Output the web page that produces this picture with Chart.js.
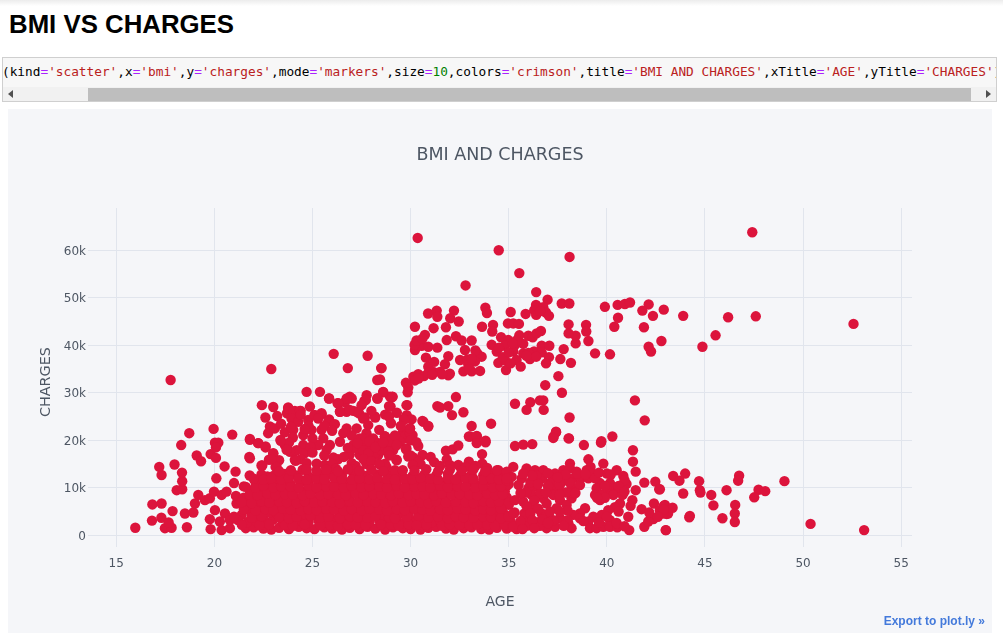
<!DOCTYPE html>
<html>
<head>
<meta charset="utf-8">
<script src="https://cdn.jsdelivr.net/npm/chart.js@4"></script>
<style>
  html, body { margin: 0; padding: 0; background: #fff; overflow: hidden; }
  body { width: 1003px; height: 643px; position: relative; }
  .topshadow { position: absolute; left: 0; top: 0; width: 1003px; height: 6px; background: linear-gradient(#ececec, #fff); }
  h1 { position: absolute; left: 9px; top: 10px; margin: 0; font: bold 25.8px "Liberation Sans", Arial, sans-serif; color: #000; }
  .codebox { position: absolute; left: 2px; top: 57px; width: 995px; height: 45px; box-sizing: border-box; border: 1px solid #cfcfcf; background: #f7f7f7; overflow: hidden; }
  .code { position: absolute; left: -1px; top: 6px; white-space: pre; font: 12.78px "DejaVu Sans Mono", monospace; color: #000; }
  .code .o { color: #aa22ff; } .code .s { color: #ba2121; } .code .n { color: #008000; }
  .track { position: absolute; left: 0; top: 29px; width: 993px; height: 14px; background: #f1f1f1; }
  .thumb { position: absolute; left: 85px; top: 1px; width: 883px; height: 13px; background: #bebebe; }
  .al { position: absolute; left: 5px; top: 3px; border: 4px solid transparent; border-left: 0; border-right: 5px solid #505050; }
  .ar { position: absolute; left: 983px; top: 3px; border: 4px solid transparent; border-right: 0; border-left: 5px solid #505050; }
  .panel { position: absolute; left: 8px; top: 109px; width: 984px; height: 524px; background: #f5f6f9; }
  .export { position: absolute; right: 7px; top: 505px; font: bold 12px "Liberation Sans", Arial, sans-serif; color: #447adb; }
</style>
</head>
<body>
<div class="topshadow"></div>
<h1>BMI VS CHARGES</h1>
<div class="codebox">
  <div class="code">(kind<span class="o">=</span><span class="s">'scatter'</span>,x<span class="o">=</span><span class="s">'bmi'</span>,y<span class="o">=</span><span class="s">'charges'</span>,mode<span class="o">=</span><span class="s">'markers'</span>,size<span class="o">=</span><span class="n">10</span>,colors<span class="o">=</span><span class="s">'crimson'</span>,title<span class="o">=</span><span class="s">'BMI AND CHARGES'</span>,xTitle<span class="o">=</span><span class="s">'AGE'</span>,yTitle<span class="o">=</span><span class="s">'CHARGES'</span>)</div>
  <div class="track"><div class="thumb"></div><div class="al"></div><div class="ar"></div></div>
</div>
<div class="panel">
  <canvas id="myChart" width="984" height="524"></canvas>
  <div class="export">Export to plot.ly »</div>
</div>
<script>
// values, charges in thousands
const xTicks = [15, 20, 25, 30, 35, 40, 45, 50, 55];
const yTicks = [0, 10, 20, 30, 40, 50, 60];

// scattered points above the main band
const upperBmi = [
  17.77, 22.9, 26.08, 27.81, 26.8, 28.5, 28.3, 28.6, 27.76, 28.3, 27.64, 26.9, 27.0, 25.84, 25.38, 24.7,
  26.28, 26.65, 22.42, 23.0, 23.76, 24.1, 24.4, 24.87, 22.6, 23.2, 23.7, 24.26, 25.1, 25.46, 26.4, 26.74,
  27.08, 27.37, 27.67, 28.2, 28.9, 28.95, 25.85,
  47.41, 42.9, 43.89, 46.18, 47.59, 52.57, 45.54, 44.87, 42.78,
  30.36, 34.49, 38.1, 35.54, 32.8, 36.4, 36.98, 37.7, 38.09, 36.39, 39.9, 40.55, 40.92, 41.18, 42.13, 41.81,
  42.35, 40.57, 40.38, 41.89, 42.13, 42.25, 39.4, 40.16, 39.06, 38.41, 38.41, 38.94, 38.95, 38.05, 38.05, 37.8,
  37.63, 38.17, 37.53, 36.86, 37.71, 41.43, 41.93, 38.1, 35.32, 36.1, 35.91, 36.59, 36.76, 36.78, 37.41, 37.29,
  38.05, 40.28, 39.72,
  30.89, 31.33, 31.36, 32.21, 32.02, 32.45, 33.81, 33.89, 35.1, 35.86, 36.3, 36.76, 36.9, 37.05, 30.22, 31.17,
  31.8, 33.64, 34.2, 34.16, 34.96, 35.23, 35.52, 30.73, 30.48, 30.22, 30.56, 30.9, 31.36, 31.84, 32.31, 32.6,
  33.11, 32.77, 30.78, 31.92, 30.9, 31.75, 32.52, 33.4, 33.62, 33.28, 32.94, 32.69, 33.11, 33.54, 34.13, 34.39,
  34.47, 34.81, 34.86, 34.61, 34.98, 34.81, 35.32, 35.74, 35.23, 35.74, 35.4, 35.61, 36.08, 36.29, 36.68, 37.07,
  36.68, 37.05, 36.9, 35.54, 36.0, 36.22, 36.42, 36.64, 30.14, 30.39, 30.22, 29.76, 30.68, 31.16, 31.5, 31.92,
  29.88, 29.85, 28.61, 29.07, 28.98, 28.52, 29.83, 32.31, 31.36, 31.5, 31.92, 32.69, 32.11, 29.8, 29.66, 30.05,
  30.6, 30.9, 33.11, 34.1, 29.97, 29.63, 30.1, 33.03, 33.37, 33.82, 28.69, 28.44,
  32.0, 33.0, 31.2, 30.9, 31.6, 32.9, 33.3, 34.5, 34.7, 35.0, 35.1, 36.0, 35.4, 35.2, 35.9, 36.4,
  33.1, 30.4, 30.2, 30.3, 30.6, 36.4, 36.6, 31.1
];
const upperCharges = [
  32.7, 35.0, 38.2, 37.8, 35.2, 35.2, 32.7, 30.2, 29.5, 28.8, 28.3, 29.2, 28.8, 28.8, 30.2, 30.2,
  27.8, 28.0, 27.4, 27.0, 26.9, 26.2, 26.2, 27.1, 24.8, 25.1, 25.7, 25.3, 25.3, 25.5, 26.0, 26.0,
  26.2, 25.7, 24.8, 24.8, 27.2, 29.2, 24.4,
  63.8, 47.5, 46.2, 45.9, 46.1, 44.5, 42.1, 39.7, 40.9,
  62.6, 60.0, 58.6, 55.2, 52.6, 51.2, 49.6, 48.8, 48.8, 48.5, 48.1, 48.5, 48.7, 49.0, 48.6, 47.3,
  46.2, 45.8, 43.9, 43.8, 39.7, 38.7, 38.3, 38.1, 40.9, 40.4, 42.0, 44.3, 42.9, 44.4, 42.5, 39.2,
  37.1, 36.3, 33.5, 31.6, 30.0, 28.4, 24.2, 24.8, 27.7, 28.0, 26.4, 28.4, 28.4, 26.4, 21.8, 20.8,
  20.4, 20.8, 19.8,
  46.7, 47.3, 46.0, 47.3, 45.7, 45.0, 47.9, 46.8, 47.0, 46.6, 47.4, 48.0, 46.9, 46.2, 43.9, 43.6,
  43.8, 43.9, 44.3, 42.9, 44.6, 44.6, 44.5, 42.2, 40.8, 39.0, 39.9, 39.7, 39.5, 41.1, 41.9, 41.0,
  41.0, 39.0, 37.4, 37.7, 35.5, 36.0, 36.9, 38.3, 37.6, 36.6, 36.0, 34.5, 34.5, 34.6, 40.1, 38.7,
  36.3, 36.9, 34.8, 41.7, 41.1, 39.9, 40.1, 40.3, 38.7, 38.3, 36.9, 35.5, 37.1, 38.7, 39.9, 39.9,
  38.5, 37.5, 36.2, 42.1, 42.0, 41.7, 42.5, 43.0, 33.4, 33.9, 32.6, 32.1, 33.5, 34.4, 34.4, 33.7,
  31.1, 30.1, 30.1, 29.1, 27.1, 35.2, 27.4, 29.1, 27.2, 26.9, 27.2, 25.9, 25.3, 25.3, 24.5, 24.4,
  24.1, 22.9, 23.0, 23.5, 22.5, 21.1, 21.1, 20.8, 20.8, 19.9, 20.8, 32.8,
  34.0, 35.0, 36.5, 34.2, 33.9, 37.0, 38.9, 39.5, 37.5, 38.5, 36.2, 38.4, 41.0, 40.4, 37.8, 37.6,
  37.2, 33.0, 40.1, 41.0, 41.4, 46.4, 47.2, 33.8
];

// band between about 14k and 27k
const middleBmi = [
  23.76, 24.02, 24.36, 23.93, 24.27, 24.78, 25.12, 25.46, 25.29, 25.8, 26.14, 22.83, 22.74, 23.08, 23.59, 24.02,
  24.53, 24.95, 25.46, 25.55, 25.29, 24.53, 25.89, 25.72, 26.06, 24.61, 24.19, 23.85, 23.59, 23.37, 21.81, 22.23,
  22.61, 23.0, 22.78, 23.12, 22.4, 24.1, 21.81, 26.74, 27.25, 26.57, 26.4, 27.08, 26.9, 27.41, 27.75, 28.18,
  27.84, 27.58, 27.25, 26.74, 26.31, 26.4, 25.85, 26.9, 27.41, 27.75, 28.09, 27.58, 27.92, 28.35, 28.69, 28.35,
  28.69, 29.11, 29.28, 28.18, 28.77, 27.75, 25.21, 25.63, 29.67, 29.68, 29.62, 29.79, 28.94, 29.08, 28.32, 27.72,
  29.79, 29.88, 28.94, 27.25, 27.58, 28.52, 27.84, 28.69, 28.95, 28.52, 28.86, 29.29, 29.71, 29.46, 29.76, 28.69,
  30.39, 30.14, 30.61, 31.02, 30.51, 31.8, 32.14, 32.43, 31.84, 32.97, 33.37, 33.37, 33.82, 33.64, 33.65, 32.97,
  32.43, 35.32, 35.74, 36.2, 37.41, 37.27, 38.07, 38.83, 39.7, 35.23, 34.47, 38.12, 39.06, 39.82, 39.17, 40.5,
  40.0, 40.84, 41.33, 41.33, 41.47, 30.65, 30.9, 29.97, 29.97,
  24.4, 24.8, 25.6, 26.0, 23.4, 23.9, 24.6, 25.0, 24.0, 23.8, 24.9, 25.0, 24.4, 25.6, 23.3, 24.7,
  26.3, 27.0, 27.3, 26.8, 26.6, 27.6, 28.0, 28.4, 27.0, 26.0, 27.2, 27.9, 28.2, 28.6, 28.9, 28.4,
  29.2, 29.0, 28.7, 27.5, 28.0, 29.3, 29.5, 28.9, 30.0, 30.3, 30.0, 30.4, 31.2, 31.5, 32.0, 32.8,
  33.3, 33.9, 29.3, 30.1
];
const middleCharges = [
  26.7, 26.0, 26.2, 24.6, 23.9, 24.3, 25.3, 25.7, 24.6, 23.9, 23.4, 22.9, 21.5, 22.5, 21.7, 22.2,
  21.1, 22.2, 22.2, 20.4, 19.0, 19.0, 19.0, 18.0, 16.4, 17.3, 17.9, 17.6, 19.0, 20.1, 20.3, 19.4,
  18.7, 17.3, 15.9, 14.4, 14.7, 15.9, 16.2, 22.5, 22.5, 21.5, 19.7, 19.0, 17.0, 20.4, 21.5, 25.0,
  23.2, 24.6, 26.0, 28.8, 27.8, 26.0, 28.8, 26.4, 16.9, 19.0, 20.4, 20.4, 18.0, 16.9, 20.8, 19.4,
  18.3, 17.9, 15.9, 17.3, 14.4, 15.0, 15.1, 14.8, 24.3, 20.4, 21.8, 18.3, 27.1, 29.2, 28.8, 28.5,
  27.4, 16.6, 19.7, 18.3, 17.9, 17.9, 17.3, 20.8, 19.7, 19.0, 17.6, 15.8, 20.8, 19.7, 18.1, 15.1,
  18.8, 16.4, 16.9, 16.5, 15.0, 17.8, 18.1, 18.9, 16.0, 20.8, 20.9, 19.4, 19.6, 17.1, 15.1, 15.5,
  14.8, 18.8, 19.1, 19.2, 21.7, 20.5, 20.4, 19.0, 19.5, 14.4, 13.7, 15.1, 16.0, 15.1, 14.4, 13.7,
  13.0, 12.5, 17.9, 15.5, 13.4, 23.9, 23.0, 21.5, 22.5,
  25.4, 23.0, 23.0, 22.0, 23.5, 22.8, 22.4, 20.4, 20.6, 19.5, 18.6, 17.4, 16.0, 16.8, 15.8, 15.2,
  16.0, 21.0, 19.4, 18.4, 16.5, 16.0, 15.6, 15.0, 15.2, 15.0, 14.6, 19.8, 18.6, 19.6, 16.8, 22.2,
  21.0, 23.6, 25.4, 27.4, 26.2, 25.8, 23.0, 25.0, 20.0, 19.6, 16.8, 15.5, 15.4, 14.6, 14.8, 14.4,
  14.6, 14.2, 19.0, 14.8
];

// left edge of the main band
const leftBmi = [
  15.97, 16.82, 16.84, 17.31, 17.3, 17.48, 17.82, 17.67, 17.87, 18.6, 18.5, 18.93, 19.01, 19.18, 18.08, 18.36,
  18.36, 18.35, 17.31, 17.19, 17.97, 18.72, 18.31, 19.1, 19.32, 19.81, 20.08, 20.52, 20.1, 19.96, 20.91, 20.03,
  20.2, 20.08, 19.52, 19.77, 19.98, 20.37, 20.62, 21.0, 21.08, 21.13, 21.47, 21.81, 22.24, 22.61, 23.0, 22.92,
  23.17, 22.44, 21.78, 23.38, 23.68, 24.14, 19.81, 20.37, 20.79, 19.77, 20.03, 20.54, 20.79, 20.28, 21.39
];
const leftCharges = [
  1.6, 3.1, 6.5, 6.7, 3.7, 1.5, 1.6, 2.7, 5.1, 1.7, 4.6, 4.8, 6.7, 8.5, 9.5, 9.7,
  11.4, 13.2, 12.7, 14.4, 14.9, 21.5, 19.0, 16.8, 15.6, 17.1, 16.3, 14.5, 12.0, 22.4, 21.2, 19.5,
  19.5, 18.5, 7.4, 7.8, 9.2, 8.5, 9.2, 11.0, 13.4, 6.7, 7.1, 20.1, 19.4, 18.5, 17.2, 16.0,
  14.4, 14.7, 16.5, 19.9, 18.0, 15.7, 1.3, 1.1, 1.5, 3.4, 5.3, 4.6, 3.2, 2.9, 4.3
];

// the dense block, read row by row since single dots cannot be told apart there
const blockBmi = [
  21.6, 22.0, 22.5, 22.9, 23.3, 23.8, 24.3, 24.7, 25.1, 25.6, 26.0, 26.5, 26.9, 27.4, 27.8, 28.2,
  28.7, 29.1, 29.6, 30.0, 30.5, 30.9, 31.3, 31.8, 32.2, 32.7, 33.1, 33.6, 34.0, 34.4, 34.9, 35.4,
  21.2, 21.7, 22.1, 22.6, 23.0, 23.5, 23.9, 24.4, 24.8, 25.3, 25.7, 26.2, 26.6, 27.0, 27.5, 27.9,
  28.4, 28.8, 29.3, 29.7, 30.2, 30.6, 31.1, 31.5, 32.0, 32.4, 32.9, 33.3, 33.8, 34.2, 34.7, 35.1,
  21.9, 22.3, 22.8, 23.2, 23.7, 24.1, 24.6, 25.0, 25.5, 25.9, 26.4, 26.8, 27.2, 27.7, 28.1, 28.6,
  29.0, 29.5, 29.9, 30.4, 30.8, 31.2, 31.7, 32.1, 32.6, 33.0, 33.5, 33.9, 34.3, 34.8, 35.3, 35.8,
  21.7, 22.2, 22.6, 23.1, 23.5, 24.0, 24.4, 24.9, 25.3, 25.8, 26.2, 26.7, 27.1, 27.6, 28.0, 28.5,
  28.9, 29.4, 29.8, 30.3, 30.7, 31.1, 31.6, 32.0, 32.5, 32.9, 33.4, 33.8, 34.2, 34.7, 35.0, 21.1,
  21.5, 22.0, 22.4, 22.9, 23.3, 23.8, 24.2, 24.7, 25.1, 25.6, 26.0, 26.5, 26.9, 27.4, 27.8, 28.3,
  28.7, 29.2, 29.6, 30.1, 30.5, 30.9, 31.4, 31.8, 32.3, 32.7, 33.2, 33.6, 34.1, 34.5, 34.9, 35.0,
  21.9, 22.3, 22.8, 23.2, 23.7, 24.1, 24.6, 25.0, 25.5, 25.9, 26.4, 26.8, 27.3, 27.7, 28.2, 28.6,
  29.1, 29.5, 30.0, 30.4, 30.8, 31.3, 31.7, 32.2, 32.6, 33.1, 33.5, 34.0, 34.4, 34.8, 34.9, 21.5,
  22.1, 22.6, 23.0, 23.5, 23.9, 24.4, 24.8, 25.3, 25.7, 26.2, 26.6, 27.1, 27.5, 28.0, 28.4, 28.9,
  29.3, 29.8, 30.2, 30.6, 31.1, 31.5, 32.0, 32.4, 32.9, 33.3, 33.8, 34.2, 34.6, 35.0, 21.8, 22.7,
  22.4, 23.0, 23.6, 24.2, 24.8, 25.4, 25.9, 26.5, 27.1, 27.7, 28.3, 28.9, 29.5, 30.1, 30.7, 31.3,
  31.9, 32.5, 33.1, 33.7, 34.2, 34.7, 24.5, 26.2, 27.0, 29.2
];
const blockCharges = [
  1.5, 1.7, 1.4, 1.2, 1.6, 1.3, 1.8, 1.5, 1.3, 1.7, 1.4, 1.2, 1.6, 1.3, 1.8, 1.4,
  1.2, 1.7, 1.5, 1.3, 1.2, 1.6, 1.8, 1.4, 1.2, 1.5, 1.7, 1.3, 1.2, 1.6, 1.4, 1.3,
  3.2, 2.8, 3.1, 2.9, 3.3, 2.7, 3.0, 3.2, 2.8, 3.1, 2.9, 3.3, 2.7, 3.0, 3.2, 2.8,
  3.1, 2.9, 3.3, 2.7, 3.0, 3.2, 2.8, 3.1, 2.9, 3.3, 2.7, 3.0, 3.2, 2.8, 3.1, 2.9,
  4.7, 4.4, 4.8, 4.6, 4.3, 4.9, 4.5, 4.7, 4.4, 4.8, 4.6, 4.3, 4.9, 4.5, 4.7, 4.4,
  4.8, 4.6, 4.3, 4.9, 4.5, 4.7, 4.4, 4.8, 4.6, 4.3, 4.9, 4.5, 4.7, 4.4, 4.8, 4.6,
  6.3, 6.0, 6.4, 6.2, 5.9, 6.5, 6.1, 6.3, 6.0, 6.4, 6.2, 5.9, 6.5, 6.1, 6.3, 6.0,
  6.4, 6.2, 5.9, 6.5, 6.1, 6.3, 6.0, 6.4, 6.2, 5.9, 6.5, 6.1, 6.3, 6.0, 6.4, 8.3,
  7.9, 7.6, 8.0, 7.8, 7.5, 8.1, 7.7, 7.9, 7.6, 8.0, 7.8, 7.5, 8.1, 7.7, 7.9, 7.6,
  8.0, 7.8, 7.5, 8.1, 7.7, 7.9, 7.6, 8.0, 7.8, 7.5, 8.1, 7.7, 7.9, 7.6, 8.0, 6.8,
  9.5, 9.2, 9.6, 9.4, 9.1, 9.7, 9.3, 9.5, 9.2, 9.6, 9.4, 9.1, 9.7, 9.3, 9.5, 9.2,
  9.6, 9.4, 9.1, 9.7, 9.3, 9.5, 9.2, 9.6, 9.4, 9.1, 9.7, 9.3, 9.5, 9.2, 10.4, 10.3,
  11.1, 10.8, 11.2, 11.0, 10.7, 11.3, 10.9, 11.1, 10.8, 11.2, 11.0, 10.7, 11.3, 10.9, 11.1, 10.8,
  11.2, 11.0, 10.7, 11.3, 10.9, 11.1, 10.8, 11.2, 11.0, 10.7, 11.3, 10.9, 11.1, 10.8, 12.6, 12.4,
  12.8, 12.5, 12.9, 12.6, 12.4, 12.8, 13.0, 12.6, 12.9, 12.5, 12.8, 12.6, 12.9, 12.5, 12.8, 12.6,
  12.9, 12.5, 12.8, 12.6, 12.9, 12.5, 13.8, 14.0, 13.9, 13.7
];

// rows lying between the ones above, to close the block
const fillBmi = [
  21.4, 22.3, 22.8, 23.6, 24.0, 24.6, 25.4, 25.9, 26.3, 26.8, 27.2, 27.7, 28.5, 29.0, 29.4, 29.9,
  30.3, 30.8, 31.6, 32.0, 32.5, 33.0, 33.4, 33.9, 34.3, 34.8, 35.2, 35.7, 36.2, 36.8,
  21.0, 21.9, 22.4, 23.3, 23.8, 24.2, 24.9, 25.4, 25.8, 26.4, 26.9, 27.3, 27.8, 28.2, 28.9, 29.2,
  29.8, 30.4, 30.9, 31.4, 31.9, 32.3, 32.7, 33.2, 33.7, 34.1, 34.6, 35.0, 35.9, 36.4,
  21.5, 22.1, 22.6, 23.0, 23.5, 23.9, 24.4, 24.8, 25.2, 25.7, 26.1, 26.6, 27.0, 27.5, 27.9, 28.4,
  28.8, 29.3, 29.7, 30.2, 30.6, 31.0, 31.5, 31.9, 32.4, 32.8, 33.3, 33.7, 34.1, 34.6,
  21.4, 21.9, 22.4, 22.8, 23.3, 23.7, 24.2, 24.6, 25.1, 25.5, 26.0, 26.4, 26.9, 27.3, 27.8, 28.2,
  28.7, 29.1, 29.6, 30.0, 30.5, 30.9, 31.3, 31.8, 32.3, 32.8, 33.2, 33.7, 34.1, 34.5,
  21.8, 22.2, 22.7, 23.1, 23.6, 24.0, 24.5, 24.9, 25.4, 25.8, 26.3, 26.7, 27.2, 27.6, 28.1, 28.5,
  29.0, 29.4, 29.9, 30.3, 30.7, 31.2, 31.6, 32.1, 32.5, 33.0, 33.4, 33.9, 34.3, 34.7,
  21.6, 22.1, 22.5, 23.0, 23.4, 23.9, 24.3, 24.8, 25.2, 25.7, 26.1, 26.6, 27.0, 27.5, 27.9, 28.4,
  28.8, 29.3, 29.7, 30.2, 30.6, 31.0, 31.5, 31.9, 32.4, 32.8, 33.3, 33.7, 34.2, 34.6,
  22.0, 22.5, 22.9, 23.4, 23.8, 24.3, 24.7, 25.2, 25.6, 26.1, 26.5, 27.0, 27.4, 27.9, 28.3, 28.8,
  29.2, 29.7, 30.1, 30.5, 31.0, 31.4, 31.9, 32.3, 32.8, 33.2, 33.7, 34.1, 34.5, 34.9,
  23.3, 23.9, 24.7, 25.2, 25.7, 26.3, 26.8, 27.4, 28.0, 28.6, 29.6, 30.2, 30.8, 31.4, 32.0, 32.6,
  33.2, 33.8, 34.4, 34.9
];
const fillCharges = [
  2.2, 2.1, 2.3, 2.2, 2.0, 2.3, 2.1, 2.2, 2.0, 2.3, 2.2, 2.1, 2.3, 2.2, 2.0, 2.3,
  2.1, 2.2, 2.0, 2.3, 2.2, 2.1, 2.3, 2.2, 2.0, 2.3, 2.1, 2.2, 2.0, 2.3,
  3.9, 3.7, 4.0, 3.8, 3.6, 3.9, 4.1, 3.7, 3.9, 3.6, 4.0, 3.8, 3.7, 4.0, 3.8, 3.6,
  3.9, 4.1, 3.7, 3.9, 3.6, 4.0, 3.8, 3.7, 4.0, 3.8, 3.6, 3.9, 3.1, 2.7,
  5.4, 5.2, 5.5, 5.3, 5.6, 5.4, 5.2, 5.5, 5.3, 5.6, 5.4, 5.2, 5.5, 5.3, 5.6, 5.4,
  5.2, 5.5, 5.3, 5.6, 5.4, 5.2, 5.5, 5.3, 5.6, 5.4, 5.2, 5.5, 5.3, 5.6,
  7.0, 6.8, 7.2, 6.9, 7.1, 7.0, 6.8, 7.2, 6.9, 7.1, 7.0, 6.8, 7.2, 6.9, 7.1, 7.0,
  6.8, 7.2, 6.9, 7.1, 7.0, 6.8, 7.2, 6.9, 7.1, 7.0, 6.8, 7.2, 6.9, 7.1,
  8.6, 8.4, 8.8, 8.5, 8.7, 8.6, 8.4, 8.8, 8.5, 8.7, 8.6, 8.4, 8.8, 8.5, 8.7, 8.6,
  8.4, 8.8, 8.5, 8.7, 8.6, 8.4, 8.8, 8.5, 8.7, 8.6, 8.4, 8.8, 8.5, 8.7,
  10.2, 10.0, 10.4, 10.1, 10.3, 10.2, 10.0, 10.4, 10.1, 10.3, 10.2, 10.0, 10.4, 10.1, 10.3, 10.2,
  10.0, 10.4, 10.1, 10.3, 10.2, 10.0, 10.4, 10.1, 10.3, 10.2, 10.0, 10.4, 10.1, 10.3,
  11.9, 11.7, 12.0, 11.8, 12.1, 11.9, 11.7, 12.0, 11.8, 12.1, 11.9, 11.7, 12.0, 11.8, 12.1, 11.9,
  11.7, 12.0, 11.8, 12.1, 11.9, 11.7, 12.0, 11.8, 12.1, 11.9, 11.7, 12.0, 11.8, 11.6,
  13.5, 13.7, 13.9, 13.6, 13.8, 13.5, 13.9, 13.6, 13.8, 13.5, 13.7, 13.6, 13.9, 13.5, 13.8, 13.6,
  13.9, 13.5, 13.7, 13.4
];

// right side of the main band and the tail
const rightBmi = [
  35.91, 36.34, 36.76, 37.36, 37.78, 38.12, 38.46, 38.8, 39.06, 38.29, 38.2, 38.63, 37.27, 37.1, 37.44, 37.02,
  36.42, 36.0, 35.66, 35.15, 34.9, 35.74, 35.32, 35.74, 36.25, 36.76, 37.27, 37.61, 38.2, 37.95, 37.44, 37.61,
  37.02, 36.68, 37.36, 36.93, 36.59, 38.04, 38.2, 35.91, 35.57, 35.23, 35.23, 35.83, 36.93, 36.17, 37.27,
  40.16, 40.33, 40.58, 39.65, 39.48, 39.4, 39.65, 40.0, 40.33, 40.67, 40.41, 40.07, 39.74, 39.31, 38.89, 38.63,
  38.29, 38.63, 39.06, 39.14, 39.48, 39.82, 40.16, 40.16, 40.53, 39.74, 38.97, 39.23,
  41.47, 41.3, 41.21, 41.09, 41.14, 41.91, 43.0, 42.37, 42.11, 41.77, 42.4, 42.96, 43.35, 43.05, 42.16, 42.47,
  42.67, 41.91, 43.38, 43.99, 43.7, 44.7, 42.7, 43.89, 44.74, 44.77, 45.32, 46.1, 46.74, 46.69, 47.73, 48.07,
  47.51, 49.05, 45.43, 46.54, 46.52, 46.52, 45.89, 44.23, 44.2, 50.38, 53.11, 43.01, 42.9, 43.12, 42.7, 42.87,
  35.5, 36.1, 36.7, 36.4, 35.9, 36.6, 36.3, 35.6, 35.9, 36.5, 36.1, 36.2, 36.7, 35.6, 37.0, 36.3,
  35.7, 37.7, 38.1, 38.6, 38.3, 37.9, 37.9, 38.5, 39.4, 39.6, 40.2, 38.0, 38.8, 39.6, 40.5, 40.9,
  40.0, 40.6, 40.8, 40.0, 39.9, 41.0, 40.9, 42.9, 42.6,
  37.1, 37.6, 38.0, 37.8, 37.0, 37.6, 37.0, 37.5, 36.5, 38.4, 38.9, 36.9, 37.6, 36.2, 39.9, 40.6,
  40.9, 39.5
];
const rightCharges = [
  14.1, 13.7, 13.7, 13.0, 13.7, 14.1, 13.4, 12.3, 12.0, 12.0, 10.2, 10.6, 12.0, 11.0, 9.9, 9.2,
  10.2, 9.9, 12.0, 12.3, 12.0, 13.0, 7.4, 7.1, 6.4, 7.8, 8.5, 7.4, 7.8, 6.4, 5.7, 3.6,
  4.3, 4.6, 1.8, 1.5, 2.0, 2.5, 1.5, 2.0, 1.7, 1.8, 4.6, 3.9, 6.7, 8.5, 3.2,
  11.0, 9.9, 9.9, 11.0, 9.9, 8.5, 7.4, 8.8, 8.5, 6.7, 5.9, 5.3, 4.3, 3.9, 5.7, 4.6,
  4.3, 3.6, 2.9, 1.5, 1.5, 1.8, 3.2, 1.8, 1.7, 8.5, 13.7, 13.0,
  9.5, 7.4, 6.2, 3.9, 1.1, 1.8, 1.1, 3.4, 2.9, 5.5, 6.7, 6.4, 5.8, 4.5, 4.8, 11.3,
  9.7, 11.1, 12.5, 13.0, 11.5, 11.4, 9.7, 8.8, 9.5, 9.0, 8.5, 9.5, 12.55, 11.5, 9.6, 9.3,
  8.0, 11.4, 6.3, 6.4, 4.6, 2.8, 3.6, 4.1, 3.8, 2.4, 1.1, 1.1, 6.2, 4.6, 5.3, 4.6,
  10.6, 11.2, 12.0, 12.6, 9.0, 8.8, 7.3, 8.9, 6.2, 5.6, 4.6, 3.2, 3.4, 3.0, 2.6, 1.5,
  1.3, 11.2, 11.2, 12.5, 8.9, 9.0, 12.8, 13.0, 12.0, 13.2, 12.8, 5.2, 3.0, 2.7, 2.6, 1.9,
  3.9, 5.0, 8.5, 10.2, 7.9, 10.8, 11.6, 5.4, 3.9,
  5.0, 5.0, 3.2, 2.0, 10.4, 10.6, 13.1, 12.2, 10.8, 8.9, 12.9, 9.0, 8.6, 12.6, 10.4, 10.4,
  9.2, 7.9
];

const bmi = [...upperBmi, ...middleBmi, ...leftBmi, ...blockBmi, ...fillBmi, ...rightBmi];
const charges = [...upperCharges, ...middleCharges, ...leftCharges, ...blockCharges, ...fillCharges, ...rightCharges];

const gridColor = '#e1e5ed';
const textColor = '#4d5663';
const chartFont = '"DejaVu Sans", Verdana, sans-serif';

const ctx = document.getElementById('myChart').getContext('2d');

new Chart(ctx, {
    type: 'scatter',
    data: {
        datasets: [{
            data: bmi.map((b, i) => ({ x: b, y: charges[i] })),
            pointRadius: 5.2,
            pointBorderWidth: 0,
            pointBackgroundColor: '#dc143c',
        }]
    },
    options: {
        animation: false,
        responsive: false,
        layout: { padding: 0 },
        plugins: {
            legend: { display: false },
            tooltip: { enabled: false },
            title: {
                display: true,
                text: 'BMI AND CHARGES',
                color: textColor,
                font: { family: chartFont, size: 17.5, weight: 'normal', lineHeight: 1.2 },
                padding: { top: 36, bottom: 42 },
            },
        },
        scales: {
            x: {
                min: 13.56,
                max: 55.55,
                afterBuildTicks: s => { s.ticks = xTicks.map(v => ({ value: v })); },
                afterFit: s => { s.height = 86; },
                border: { display: false },
                grid: { color: gridColor, drawTicks: false },
                ticks: { color: textColor, padding: 10, maxRotation: 0, autoSkip: false, font: { family: chartFont, size: 12 } },
                title: { display: true, text: 'AGE', color: textColor, padding: { bottom: 22 }, font: { family: chartFont, size: 14 } },
            },
            y: {
                min: -2.46,
                max: 68.9,
                afterBuildTicks: s => { s.ticks = yTicks.map(v => ({ value: v })); },
                afterFit: s => { s.width = 80; },
                border: { display: false },
                grid: { color: gridColor, drawTicks: false },
                ticks: { color: textColor, padding: 2, labelOffset: 1.5, autoSkip: false, font: { family: chartFont, size: 12 }, callback: v => v === 0 ? '0' : v + 'k' },
                // trailing spaces push the rotated text down a little
                title: { display: true, text: 'CHARGES  ', color: textColor, padding: { top: 30 }, font: { family: chartFont, size: 14.4 } },
            },
            // empty right axis, keeps the right margin without moving the centred title
            margin: {
                position: 'right',
                afterFit: s => { s.width = 80; },
                border: { display: false },
                grid: { display: false },
                ticks: { display: false },
            },
        },
    },
});
</script>
</body>
</html>
